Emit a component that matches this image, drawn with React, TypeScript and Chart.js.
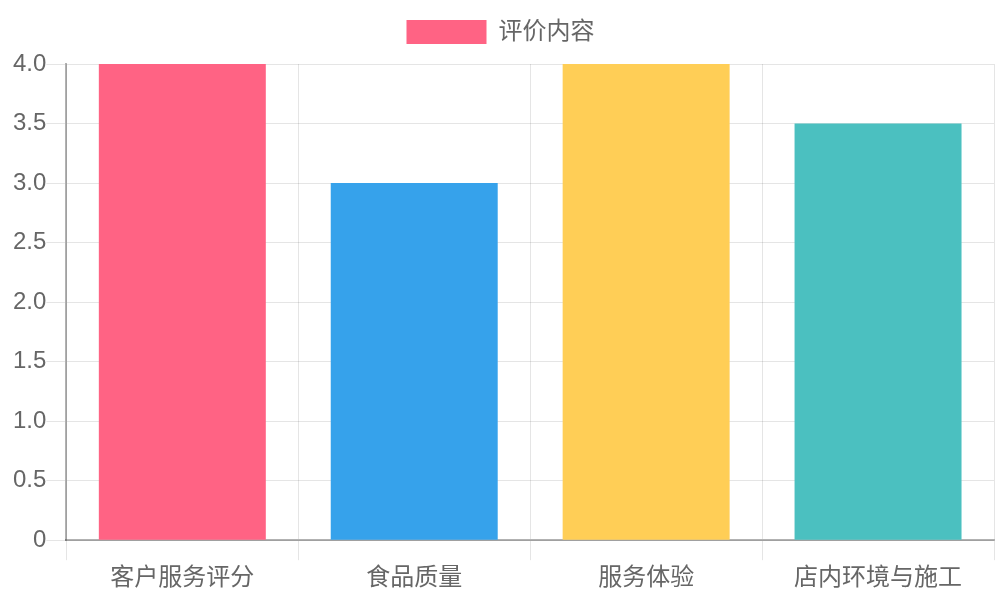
import React, { useEffect, useRef } from "react";
import { Chart, registerables } from "chart.js";

Chart.register(...registerables);

const categories = ["客户服务评分", "食品质量", "服务体验", "店内环境与施工"];
const seriesLabel = "评价内容";
const seriesValues = [4, 3, 4, 3.5];
const barColors = [
  "rgb(255, 99, 132)",
  "rgb(54, 162, 235)",
  "rgb(255, 206, 86)",
  "rgb(75, 192, 192)",
];

const legendGap = {
  id: "legendGap",
  beforeInit(chart: any) {
    const legend = chart.legend;
    if (!legend) return;
    const orig = legend.fit;
    legend.fit = function () {
      orig.call(this);
      this.height += 10;
    };
  },
  afterLayout(chart: any) {
    const legend = chart.legend;
    if (!legend) return;
    legend.left -= 3;
    legend.right -= 3;
  },
};

export default function App() {
  const ref = useRef<HTMLCanvasElement | null>(null);
  useEffect(() => {
    document.body.style.margin = "0";
    const font = { family: "'Liberation Sans', Arial, 'Noto Sans CJK SC', sans-serif", size: 24 };
    const chart = new Chart(ref.current!, {
      type: "bar",
      data: {
        labels: categories,
        datasets: [
          {
            label: seriesLabel,
            data: seriesValues,
            backgroundColor: barColors,
            borderColor: barColors,
            borderWidth: 0,
          },
        ],
      },
      plugins: [legendGap],
      options: {
        animation: false,
        responsive: true,
        maintainAspectRatio: false,
        layout: { padding: { right: 6, left: 13, top: 0, bottom: 3 } },
        plugins: {
          legend: {
            labels: { font, color: "#666", boxWidth: 80, boxHeight: 24, padding: 20 },
          },
          tooltip: { enabled: false },
        },
        scales: {
          x: {
            grid: { color: "rgba(0,0,0,0.1)", lineWidth: 1, tickLength: 20, offset: true },
            border: { color: "rgba(0,0,0,0.3)", width: 2 },
            ticks: { font, color: "#666", padding: 4, maxRotation: 0 },
          },
          y: {
            min: 0,
            max: 4,
            grid: { color: "rgba(0,0,0,0.1)", lineWidth: 1, tickLength: 20 },
            border: { color: "rgba(0,0,0,0.3)", width: 2 },
            ticks: { font, color: "#666", padding: 0, stepSize: 0.5 },
          },
        },
      },
    });
    return () => chart.destroy();
  }, []);
  return (
    <div style={{ position: "relative", width: 1000, height: 600 }}>
      <canvas ref={ref} />
    </div>
  );
}
